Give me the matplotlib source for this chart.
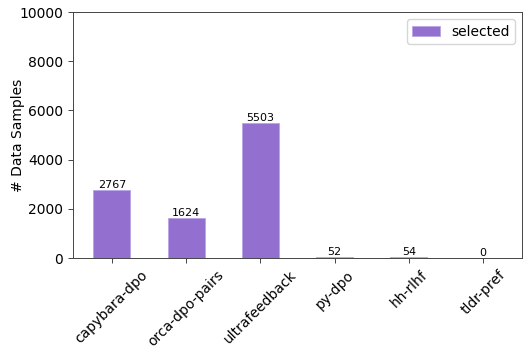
import matplotlib
matplotlib.use("Agg")
import matplotlib.pyplot as plt

categories = ["capybara-dpo", "orca-dpo-pairs", "ultrafeedback", "py-dpo", "hh-rlhf", "tldr-pref"]
selected = [2767, 1624, 5503, 52, 54, 0]

fig = plt.figure(figsize=(5.28, 3.54), dpi=100)
ax = fig.add_axes([0.138, 0.271, 0.851, 0.695])
bars = ax.bar(range(len(categories)), selected, width=0.5, color="#9370d0",
              edgecolor="#b9a3e6", linewidth=0.6, label="selected")
for b, v in zip(bars, selected):
    ax.text(b.get_x() + b.get_width() / 2, v, str(v), ha="center", va="bottom", fontsize=8)
ax.set_ylim(0, 10000)
ax.set_yticks([0, 2000, 4000, 6000, 8000, 10000])
ax.set_xticks(range(len(categories)))
ax.set_xticklabels(categories, rotation=45, ha="center", fontsize=10)
ax.tick_params(axis="y", labelsize=10)
ax.tick_params(width=0.7, color="#444444")
for s in ax.spines.values():
    s.set_linewidth(0.7)
    s.set_color("#444444")
ax.set_ylabel("# Data Samples", fontsize=10)
ax.yaxis.set_label_coords(-0.107, 0.5)
ax.legend(loc="upper right", fontsize=10)
fig.savefig("out.png", dpi=100)
